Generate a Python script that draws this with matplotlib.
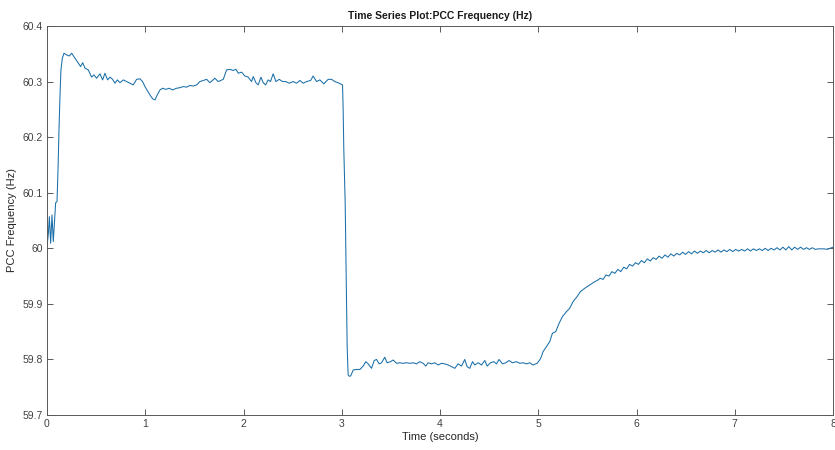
import numpy as np
import matplotlib
matplotlib.use('Agg')
from matplotlib import pyplot as plt

# startup transient (0 - 0.2 s)
t_start = [0.000, 0.014, 0.024, 0.037, 0.051, 0.064, 0.078, 0.088, 0.102, 0.112,
           0.122, 0.132, 0.142, 0.156, 0.173]
f_start = [60.003, 60.027, 60.057, 60.009, 60.060, 60.012, 60.054, 60.082, 60.084, 60.141,
           60.213, 60.273, 60.321, 60.342, 60.351]

# high plateau (0.2 - 3.0 s)
t_high = [0.200, 0.227, 0.251, 0.285, 0.319, 0.342, 0.363, 0.387, 0.420, 0.454,
          0.478, 0.505, 0.539, 0.566, 0.590, 0.617, 0.641, 0.668, 0.692, 0.716,
          0.743, 0.777, 0.810, 0.844, 0.878, 0.912, 0.946, 0.973, 0.997, 1.021,
          1.048, 1.075, 1.099, 1.122, 1.150, 1.177, 1.211, 1.245, 1.278, 1.319,
          1.353, 1.387, 1.421, 1.455, 1.489, 1.523, 1.556, 1.590, 1.625, 1.658,
          1.709, 1.743, 1.794, 1.828, 1.862, 1.895, 1.923, 1.947, 1.981, 2.014,
          2.048, 2.082, 2.099, 2.126, 2.150, 2.177, 2.201, 2.225, 2.251, 2.275,
          2.302, 2.330, 2.363, 2.398, 2.431, 2.465, 2.506, 2.540, 2.574, 2.607,
          2.642, 2.683, 2.709, 2.744, 2.777, 2.818, 2.862, 2.896, 2.930, 2.974,
          3.008]
f_high = [60.348, 60.346, 60.351, 60.342, 60.333, 60.327, 60.334, 60.324, 60.321, 60.308,
          60.312, 60.306, 60.314, 60.303, 60.315, 60.303, 60.308, 60.304, 60.297, 60.303,
          60.298, 60.303, 60.300, 60.297, 60.294, 60.304, 60.305, 60.300, 60.291, 60.284,
          60.276, 60.269, 60.267, 60.276, 60.285, 60.288, 60.286, 60.288, 60.285, 60.288,
          60.289, 60.291, 60.290, 60.293, 60.292, 60.294, 60.300, 60.302, 60.304, 60.298,
          60.306, 60.300, 60.304, 60.321, 60.322, 60.320, 60.322, 60.315, 60.317, 60.310,
          60.308, 60.300, 60.309, 60.298, 60.294, 60.308, 60.298, 60.294, 60.303, 60.300,
          60.314, 60.300, 60.304, 60.300, 60.300, 60.297, 60.300, 60.297, 60.302, 60.297,
          60.300, 60.302, 60.310, 60.300, 60.303, 60.296, 60.304, 60.304, 60.300, 60.297,
          60.294]

# frequency step down (3.0 - 3.07 s)
t_drop = [3.014, 3.021, 3.035, 3.042, 3.049, 3.055, 3.065]
f_drop = [60.252, 60.177, 60.081, 59.991, 59.895, 59.823, 59.772]

# low plateau (3.07 - 5.0 s)
t_low = [3.075, 3.090, 3.117, 3.151, 3.185, 3.218, 3.245, 3.269, 3.303, 3.330,
         3.354, 3.381, 3.405, 3.438, 3.462, 3.497, 3.523, 3.558, 3.591, 3.625,
         3.659, 3.693, 3.727, 3.761, 3.794, 3.829, 3.855, 3.879, 3.913, 3.947,
         3.981, 4.015, 4.049, 4.083, 4.117, 4.151, 4.184, 4.219, 4.252, 4.276,
         4.303, 4.331, 4.354, 4.388, 4.422, 4.456, 4.480, 4.514, 4.547, 4.575,
         4.601, 4.636, 4.669, 4.703, 4.737, 4.778, 4.812, 4.845, 4.880, 4.913,
         4.947, 4.988]
f_low = [59.770, 59.770, 59.781, 59.782, 59.782, 59.788, 59.796, 59.792, 59.784, 59.798,
         59.800, 59.792, 59.794, 59.804, 59.794, 59.796, 59.799, 59.793, 59.794, 59.793,
         59.794, 59.793, 59.794, 59.792, 59.796, 59.793, 59.788, 59.794, 59.792, 59.794,
         59.790, 59.793, 59.792, 59.790, 59.787, 59.784, 59.792, 59.788, 59.800, 59.787,
         59.784, 59.796, 59.790, 59.794, 59.790, 59.798, 59.788, 59.794, 59.796, 59.792,
         59.800, 59.792, 59.794, 59.798, 59.794, 59.796, 59.793, 59.794, 59.792, 59.794,
         59.790, 59.793]

# recovery back to 60 Hz (5.0 - 8.0 s)
t_rec = [5.015, 5.032, 5.049, 5.083, 5.117, 5.144, 5.178, 5.212, 5.246, 5.287,
         5.320, 5.354, 5.395, 5.429, 5.473, 5.524, 5.575, 5.600, 5.630, 5.660,
         5.690, 5.720, 5.750, 5.780, 5.810, 5.840, 5.870, 5.900, 5.930, 5.960,
         5.990, 6.020, 6.050, 6.080, 6.110, 6.140, 6.170, 6.200, 6.230, 6.260,
         6.290, 6.320, 6.350, 6.380, 6.410, 6.440, 6.470, 6.500, 6.530, 6.560,
         6.590, 6.620, 6.650, 6.680, 6.710, 6.740, 6.770, 6.800, 6.830, 6.860,
         6.890, 6.920, 6.950, 6.980, 7.010, 7.040, 7.070, 7.100, 7.130, 7.160,
         7.190, 7.220, 7.250, 7.280, 7.310, 7.340, 7.370, 7.400, 7.430, 7.460,
         7.490, 7.520, 7.550, 7.580, 7.610, 7.640, 7.670, 7.700, 7.730, 7.760,
         7.790, 7.820, 7.850, 7.880, 7.910, 7.940, 7.970, 8.000]
f_rec = [59.799, 59.805, 59.814, 59.823, 59.832, 59.847, 59.850, 59.865, 59.877, 59.886,
         59.892, 59.904, 59.913, 59.922, 59.928, 59.934, 59.940, 59.942, 59.946, 59.944,
         59.952, 59.950, 59.958, 59.955, 59.962, 59.958, 59.966, 59.963, 59.971, 59.968,
         59.974, 59.971, 59.978, 59.974, 59.981, 59.977, 59.983, 59.980, 59.986, 59.982,
         59.988, 59.984, 59.990, 59.986, 59.991, 59.988, 59.993, 59.989, 59.994, 59.990,
         59.995, 59.991, 59.995, 59.992, 59.996, 59.992, 59.996, 59.993, 59.997, 59.993,
         59.997, 59.994, 59.998, 59.994, 59.998, 59.995, 59.998, 59.995, 59.999, 59.995,
         59.999, 59.996, 59.999, 59.996, 60.000, 59.996, 60.000, 59.997, 60.001, 59.997,
         60.002, 59.997, 60.003, 59.997, 60.002, 59.998, 60.002, 59.998, 60.001, 59.998,
         60.001, 59.998, 59.999, 59.999, 59.999, 59.998, 60.000, 60.002]

x_ticks = [0, 1, 2, 3, 4, 5, 6, 7, 8]
y_ticks = [59.7, 59.8, 59.9, 60.0, 60.1, 60.2, 60.3, 60.4]
y_tick_labels = ['59.7', '59.8', '59.9', '60', '60.1', '60.2', '60.3', '60.4']

t = np.concatenate([t_start, t_high, t_drop, t_low, t_rec])
f = np.concatenate([f_start, f_high, f_drop, f_low, f_rec])

plt.rcParams['font.family'] = ['Liberation Sans', 'DejaVu Sans']
fig = plt.figure(figsize=(8.35, 4.5), dpi=100)
ax = fig.add_axes([47 / 835, 35 / 450, 786 / 835, 389 / 450])

ax.plot(t, f, color='#1a6fa8', linewidth=0.75)

ax.set_xlim(0, 8)
ax.set_ylim(59.7, 60.4)
ax.set_xticks(x_ticks)
ax.set_yticks(y_ticks)
ax.set_yticklabels(y_tick_labels)
ax.tick_params(direction='in', top=True, right=True, length=4, width=0.6,
               labelsize=7.5, colors='0.25', pad=3)
for s in ax.spines.values():
    s.set_color('0.35')
    s.set_linewidth(0.7)

ax.set_title('Time Series Plot:PCC Frequency (Hz)', fontsize=7.5, fontweight='bold',
             color='0.1', pad=5)
ax.set_xlabel('Time (seconds)', fontsize=8, color='0.15', labelpad=2)
ax.set_ylabel('PCC Frequency (Hz)', fontsize=8, color='0.15', labelpad=4)

fig.savefig('out.png', dpi=100)
